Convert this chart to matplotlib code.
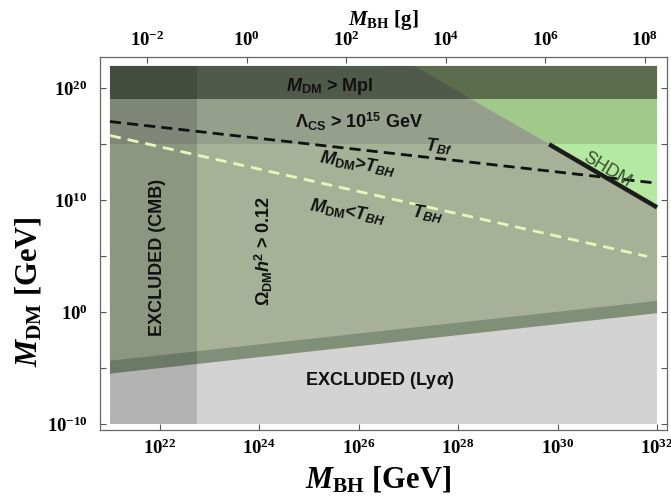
import numpy as np
import matplotlib
matplotlib.use('Agg')
import matplotlib.pyplot as plt
from matplotlib.ticker import FixedLocator, FixedFormatter, NullLocator

plt.rcParams['mathtext.fontset'] = 'custom'
plt.rcParams['mathtext.rm'] = 'Liberation Serif:bold'
plt.rcParams['mathtext.it'] = 'Liberation Serif:italic:bold'
plt.rcParams['mathtext.bf'] = 'Liberation Sans:bold'
plt.rcParams['mathtext.bfit'] = 'Liberation Sans:italic:bold'
plt.rcParams['mathtext.sf'] = 'Liberation Sans'

# ---------------- data (GeV) ----------------
mbh_range = [1e21, 1e32]
mdm_range = [1e-10, 1e22]
m_planck = 1.22e19
lambda_cs = 1e15
mbh_cmb = 10**22.75
lya_mbh = [1e21, 1e32]
lya_lower = [10**-5.5, 10**-0.1]
lya_upper = [10**-4.35, 10**1.0]
shdm_mbh = [10**29.83, 1e32]
shdm_mdm = [1e15, 10**9.36]
tbf_mbh = [1e21, 1e32]
tbf_mdm = [10**17.03, 10**11.52]
tbh_mbh = [1e21, 10**31.8]
tbh_mdm = [10**15.78, 10**4.98]
gev_per_gram = 5.61e23

xtick_vals = [1e22, 1e24, 1e26, 1e28, 1e30, 1e32]
xtick_labels = [r'$\mathrm{10}^{\mathrm{22}}$', r'$\mathrm{10}^{\mathrm{24}}$',
                r'$\mathrm{10}^{\mathrm{26}}$', r'$\mathrm{10}^{\mathrm{28}}$',
                r'$\mathrm{10}^{\mathrm{30}}$', r'$\mathrm{10}^{\mathrm{32}}$']
ytick_vals = [1e-10, 1e-5, 1e0, 1e5, 1e10, 1e15, 1e20]
ytick_labels = [r'$\mathrm{10}^{\mathrm{-10}}$', '', r'$\mathrm{10}^{\mathrm{0}}$', '',
                r'$\mathrm{10}^{\mathrm{10}}$', '', r'$\mathrm{10}^{\mathrm{20}}$']
gtick_vals = [1e-2, 1e0, 1e2, 1e4, 1e6, 1e8]
gtick_labels = [r'$\mathrm{10}^{\mathrm{-2}}$', r'$\mathrm{10}^{\mathrm{0}}$',
                r'$\mathrm{10}^{\mathrm{2}}$', r'$\mathrm{10}^{\mathrm{4}}$',
                r'$\mathrm{10}^{\mathrm{6}}$', r'$\mathrm{10}^{\mathrm{8}}$']

# ---------------- colours ----------------
c_lya = '#d3d3d3'
c_strip = '#808f78'
c_main = '#a6b198'
c_lam = '#969e8c'
c_top = '#51594b'
c_top_r = '#5c6d4e'
c_lam_r = '#a0c98a'
c_shdm = '#b5e8a0'


def line_y(xs, ys, x):
    lx, ly = np.log10(xs), np.log10(ys)
    return 10**(ly[0] + (ly[1] - ly[0]) * (np.log10(x) - lx[0]) / (lx[1] - lx[0]))


def line_x(xs, ys, y):
    lx, ly = np.log10(xs), np.log10(ys)
    return 10**(lx[0] + (lx[1] - lx[0]) * (np.log10(y) - ly[0]) / (ly[1] - ly[0]))


fig = plt.figure(figsize=(6.71, 4.98), dpi=100)
ax = fig.add_axes([100/671, 1-430/498, 567/671, 373/498])
ax.set_xscale('log')
ax.set_yscale('log')

x0, x1 = mbh_range
y0, y1 = mdm_range

# Ly-alpha excluded background
ax.fill([x0, x1, x1, x0], [y0, y0, y1, y1], color=c_lya, lw=0, zorder=1)
# strip
ax.fill([lya_mbh[0], lya_mbh[1], x1, x0], [lya_lower[0], lya_lower[1], y1, y1],
        color=c_strip, lw=0, zorder=2)
# main allowed region
ax.fill([lya_mbh[0], lya_mbh[1], x1, x0], [lya_upper[0], lya_upper[1], y1, y1],
        color=c_main, lw=0, zorder=3)
# Lambda_CS band
ax.fill([x0, x1, x1, x0], [lambda_cs, lambda_cs, m_planck, m_planck],
        color=c_lam, lw=0, zorder=4)
# M > Mpl band
ax.fill([x0, x1, x1, x0], [m_planck, m_planck, y1, y1],
        color=c_top, lw=0, zorder=4)

# right of SHDM diagonal
xa_top = line_x(shdm_mbh, shdm_mdm, y1)
xa_mpl = line_x(shdm_mbh, shdm_mdm, m_planck)
xa_lam = line_x(shdm_mbh, shdm_mdm, lambda_cs)
y_end = line_y(shdm_mbh, shdm_mdm, x1)
ax.fill([xa_top, x1, x1, xa_mpl], [y1, y1, m_planck, m_planck], color=c_top_r, lw=0, zorder=5)
ax.fill([xa_mpl, x1, x1, xa_lam], [m_planck, m_planck, lambda_cs, lambda_cs], color=c_lam_r, lw=0, zorder=5)
ax.fill([xa_lam, x1, x1], [lambda_cs, lambda_cs, y_end], color=c_shdm, lw=0, zorder=5)

# CMB excluded overlay
ax.fill([x0, mbh_cmb, mbh_cmb, x0], [y0, y0, y1, y1], color='black', alpha=0.15, lw=0, zorder=6)

# lines
ax.plot(tbf_mbh, tbf_mdm, color='#111111', lw=2.0, dashes=(4, 2.2), zorder=7)
ax.plot(tbh_mbh, tbh_mdm, color='#e8f7b8', lw=2.0, dashes=(4, 2.5), zorder=7)
ax.plot(shdm_mbh, shdm_mdm, color='#1c1c1c', lw=3.2, solid_capstyle='butt', zorder=8)

# labels inside
tk = dict(family='Liberation Sans', weight='bold', fontsize=13, ha='center', va='center',
          rotation_mode='anchor', zorder=9, color='#111111')
ax.text(10**25.41, 10**20.15, r'$\mathbfit{M}_{\mathbf{DM}}$ > Mpl', **tk)
ax.text(10**26.0, 10**16.95, r'$\mathbf{\Lambda}_{\mathbf{CS}}$ > 10$^{\mathbf{15}}$ GeV', **tk)
ax.text(10**27.62, 10**14.75, r'$\mathbfit{T}_{\mathbfit{Bf}}$', rotation=-6, **tk)
ax.text(10**25.98, 10**13.2, r'$\mathbfit{M}_{\mathbf{DM}}$>$\mathbfit{T}_{\mathbfit{BH}}$', rotation=-10, **tk)
ax.text(10**25.78, 10**8.9, r'$\mathbfit{M}_{\mathbf{DM}}$<$\mathbfit{T}_{\mathbfit{BH}}$', rotation=-10, **tk)
ax.text(10**27.38, 10**8.8, r'$\mathbfit{T}_{\mathbfit{BH}}$', rotation=-10, **tk)
ax.text(10**21.96, 10**4.9, 'EXCLUDED (CMB)', rotation=90, **tk)
ax.text(10**24.1, 10**5.5, r'$\mathbf{\Omega}_{\mathbf{DM}}\mathbfit{h}^{\mathbf{2}}$ > 0.12', rotation=90, **tk)
ax.text(10**26.42, 10**-6.1, r'EXCLUDED (Ly$\mathbfit{\alpha}$)', **tk)
ax.text(10**31.0, 10**12.75, 'SHDM', family='Liberation Sans', fontsize=13, color='#34502f',
        rotation=-31, ha='center', va='center', rotation_mode='anchor', zorder=9)

# axes
ax.set_xlim(10**20.8, 10**32.2)
ax.set_ylim(10**-10.54, 10**22.8)
ax.xaxis.set_major_locator(FixedLocator(xtick_vals))
ax.xaxis.set_major_formatter(FixedFormatter(xtick_labels))
ax.xaxis.set_minor_locator(NullLocator())
ax.yaxis.set_major_locator(FixedLocator(ytick_vals))
ax.yaxis.set_major_formatter(FixedFormatter(ytick_labels))
ax.yaxis.set_minor_locator(NullLocator())
ax.tick_params(axis='both', which='both', direction='in', length=4, width=0.8,
               color='#555555', labelsize=13.5, pad=6)
ax.tick_params(axis='y', right=True, pad=9)
ax.tick_params(axis='x', top=False)
for s in ax.spines.values():
    s.set_color('#666666')
    s.set_linewidth(0.9)

ax.set_xlabel(r'$\mathit{M}_{\mathrm{BH}}$ [GeV]', family='Liberation Serif', weight='bold',
              fontsize=22)
ax.xaxis.set_label_coords(0.49, -0.092)
ax.set_ylabel(r'$\mathit{M}_{\mathrm{DM}}$ [GeV]', family='Liberation Serif', weight='bold',
              fontsize=22)
ax.yaxis.set_label_coords(-0.1, 0.37)

top = ax.twiny()
top.set_xscale('log')
top.set_xlim(10**20.8 / gev_per_gram, 10**32.2 / gev_per_gram)
top.xaxis.set_major_locator(FixedLocator(gtick_vals))
top.xaxis.set_major_formatter(FixedFormatter(gtick_labels))
top.xaxis.set_minor_locator(NullLocator())
top.tick_params(axis='x', which='both', direction='in', length=4, width=0.8,
                color='#555555', labelsize=13.5, pad=5)
top.set_xlabel(r'$\mathit{M}_{\mathrm{BH}}$ [g]', family='Liberation Serif', weight='bold',
               fontsize=15, labelpad=4)
for s in top.spines.values():
    s.set_visible(False)

fig.savefig('out.png', dpi=100)
